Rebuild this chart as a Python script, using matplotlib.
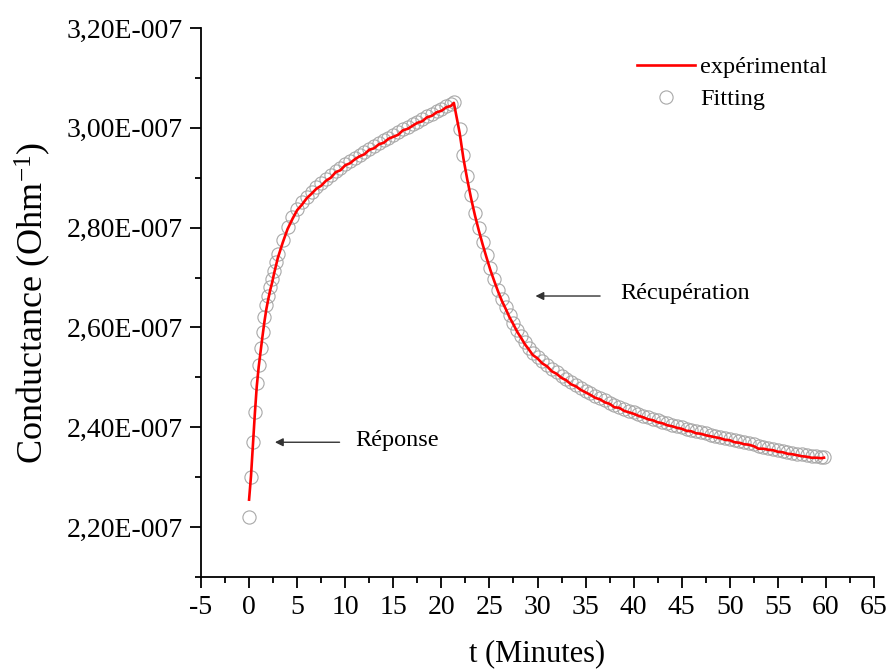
import numpy as np
import matplotlib
matplotlib.use('Agg')
import matplotlib.pyplot as plt
from matplotlib.ticker import MultipleLocator, FuncFormatter

plt.rcParams['font.family'] = ['Liberation Serif', 'DejaVu Serif']
plt.rcParams['mathtext.fontset'] = 'custom'
plt.rcParams['mathtext.rm'] = 'Liberation Serif'
plt.rcParams['mathtext.it'] = 'Liberation Serif:italic'
plt.rcParams['axes.unicode_minus'] = False

# time (minutes), response part (gas on)
resp_t = [0.0, 0.2, 0.4, 0.6, 0.8, 1.0, 1.2, 1.4, 1.6, 1.8, 2.0, 2.2, 2.4, 2.6, 2.8, 3.0,
          3.5, 4.0, 4.5, 5.0, 5.5, 6.0, 6.5, 7.0, 7.5, 8.0, 8.5, 9.0, 9.5, 10.0, 10.5, 11.0,
          11.5, 12.0, 12.5, 13.0, 13.5, 14.0, 14.5, 15.0, 15.5, 16.0, 16.5, 17.0, 17.5, 18.0,
          18.5, 19.0, 19.5, 20.0, 20.5, 21.0, 21.3]
# recovery part (gas off)
rec_t = [21.9, 22.3, 22.7, 23.1, 23.5, 23.9, 24.3, 24.7, 25.1, 25.5, 25.9, 26.3, 26.7, 27.1,
         27.5, 27.9, 28.3, 28.7, 29.1,
         29.5, 30.0, 30.5, 31.0, 31.5, 32.0, 32.5, 33.0, 33.5, 34.0, 34.5, 35.0, 35.5, 36.0,
         36.5, 37.0, 37.5, 38.0, 38.5, 39.0, 39.5, 40.0, 40.5, 41.0, 41.5, 42.0, 42.5, 43.0,
         43.5, 44.0, 44.5, 45.0, 45.5, 46.0, 46.5, 47.0, 47.5, 48.0, 48.5, 49.0, 49.5, 50.0,
         50.5, 51.0, 51.5, 52.0, 52.5, 53.0, 53.5, 54.0, 54.5, 55.0, 55.5, 56.0, 56.5, 57.0,
         57.5, 58.0, 58.5, 59.0, 59.5, 59.8]

# conductance in units of 1e-7 Ohm^-1
resp_fit = [2.220, 2.300, 2.370, 2.430, 2.488, 2.525, 2.558, 2.590, 2.620, 2.645, 2.664, 2.681,
            2.697, 2.714, 2.731, 2.747,
            2.776, 2.802, 2.822, 2.838, 2.851, 2.862, 2.872, 2.881, 2.889, 2.897, 2.905, 2.913,
            2.920, 2.927, 2.933, 2.940, 2.946, 2.952, 2.958, 2.964, 2.969, 2.975, 2.980, 2.986,
            2.991, 2.997, 3.002, 3.007, 3.012, 3.018, 3.023, 3.028, 3.033, 3.038, 3.043, 3.048,
            3.052]
rec_fit = [2.997, 2.945, 2.904, 2.866, 2.830, 2.800, 2.771, 2.745, 2.720, 2.697, 2.676, 2.657,
           2.640, 2.624, 2.609, 2.595, 2.582, 2.570, 2.559,
           2.549, 2.540, 2.532, 2.524, 2.517, 2.510, 2.503, 2.497, 2.491, 2.485, 2.479, 2.473,
           2.468, 2.463, 2.458, 2.454, 2.449, 2.445, 2.441, 2.437, 2.433, 2.430, 2.426, 2.423,
           2.420, 2.417, 2.414, 2.411, 2.408, 2.405, 2.403, 2.400, 2.397, 2.395, 2.392, 2.390,
           2.388, 2.385, 2.383, 2.381, 2.379, 2.376, 2.374, 2.372, 2.370, 2.368, 2.366, 2.363,
           2.361, 2.359, 2.357, 2.355, 2.353, 2.351, 2.349, 2.347, 2.346, 2.344, 2.343, 2.342,
           2.341, 2.340]

resp_exp = [2.255, 2.302, 2.366, 2.427, 2.482, 2.521, 2.552, 2.583, 2.612, 2.637, 2.657, 2.675,
            2.690, 2.708, 2.724, 2.740,
            2.770, 2.797, 2.817, 2.835, 2.846, 2.859, 2.868, 2.878, 2.884, 2.894, 2.900, 2.911,
            2.915, 2.925, 2.929, 2.937, 2.943, 2.947, 2.956, 2.959, 2.967, 2.970, 2.978, 2.982,
            2.986, 2.995, 2.998, 3.004, 3.010, 3.013, 3.021, 3.024, 3.031, 3.034, 3.041, 3.044,
            3.050]
rec_exp = [2.990, 2.938, 2.896, 2.858, 2.824, 2.794, 2.766, 2.740, 2.715, 2.693, 2.672, 2.653,
           2.637, 2.620, 2.606, 2.591, 2.579, 2.566, 2.556,
           2.545, 2.538, 2.528, 2.522, 2.512, 2.507, 2.499, 2.494, 2.486, 2.482, 2.475, 2.470,
           2.465, 2.459, 2.456, 2.450, 2.447, 2.440, 2.439, 2.433, 2.430, 2.427, 2.423, 2.420,
           2.416, 2.414, 2.410, 2.408, 2.404, 2.402, 2.399, 2.397, 2.393, 2.392, 2.388, 2.387,
           2.384, 2.382, 2.380, 2.378, 2.375, 2.374, 2.370, 2.369, 2.366, 2.365, 2.362, 2.357,
           2.357, 2.355, 2.354, 2.351, 2.350, 2.347, 2.346, 2.344, 2.342, 2.341, 2.339, 2.339,
           2.338, 2.339]

t = np.array(resp_t + rec_t)
g_fit = np.array(resp_fit + rec_fit) * 1e-7
g_exp = np.array(resp_exp + rec_exp) * 1e-7

fig = plt.figure(figsize=(8.9, 6.71), dpi=100)
ax = fig.add_axes([201/890, 94/671, 673/890, 549/671])

ax.plot(t, g_fit, linestyle='none', marker='o', markersize=9.5, markerfacecolor='none',
        markeredgecolor='#a8a8a8', markeredgewidth=0.8, label='Fitting', zorder=2)
ax.plot(t, g_exp, color='red', lw=1.9, label='expérimental', zorder=3)

ax.set_xlim(-5, 65)
ax.set_ylim(2.10e-7, 3.20e-7)
ax.xaxis.set_major_locator(MultipleLocator(5))
ax.xaxis.set_minor_locator(MultipleLocator(2.5))
ax.yaxis.set_major_locator(MultipleLocator(0.2e-7))
ax.yaxis.set_minor_locator(MultipleLocator(0.1e-7))
ax.yaxis.set_major_formatter(FuncFormatter(lambda v, p: f'{v*1e7:.2f}'.replace('.', ',') + 'E-007'))

for s in ['top', 'right']:
    ax.spines[s].set_visible(False)
for s in ['left', 'bottom']:
    ax.spines[s].set_linewidth(1.3)
ax.tick_params(which='major', direction='out', length=8, width=1.3, labelsize=20, pad=5)
ax.tick_params(which='minor', direction='out', length=4.5, width=1.3)

ax.set_xlabel('t (Minutes)', fontsize=22, labelpad=14)
ax.set_ylabel(r'Conductance (Ohm$^{-1}$)', fontsize=26, labelpad=10)

# annotations
ax.annotate('', xy=(2.4, 2.370e-7), xytext=(9.7, 2.370e-7),
            arrowprops=dict(arrowstyle='-|>', color='#333333', lw=1.0, mutation_scale=12))
ax.text(11.0, 2.374e-7, 'Réponse', fontsize=17.5, va='center', ha='left')
ax.annotate('', xy=(29.5, 2.663e-7), xytext=(36.8, 2.663e-7),
            arrowprops=dict(arrowstyle='-|>', color='#333333', lw=1.0, mutation_scale=12))
ax.text(38.6, 2.669e-7, 'Récupération', fontsize=17.5, va='center', ha='left')

handles, labels = ax.get_legend_handles_labels()
ax.legend(handles[::-1], labels[::-1], loc='upper left', bbox_to_anchor=(637/890, 1 - 56/671),
          bbox_transform=fig.transFigure, frameon=False, fontsize=17.5, numpoints=1,
          handlelength=2.4, handletextpad=0.2, labelspacing=0.42, borderpad=0, borderaxespad=0)

fig.savefig('out.png', dpi=100)
